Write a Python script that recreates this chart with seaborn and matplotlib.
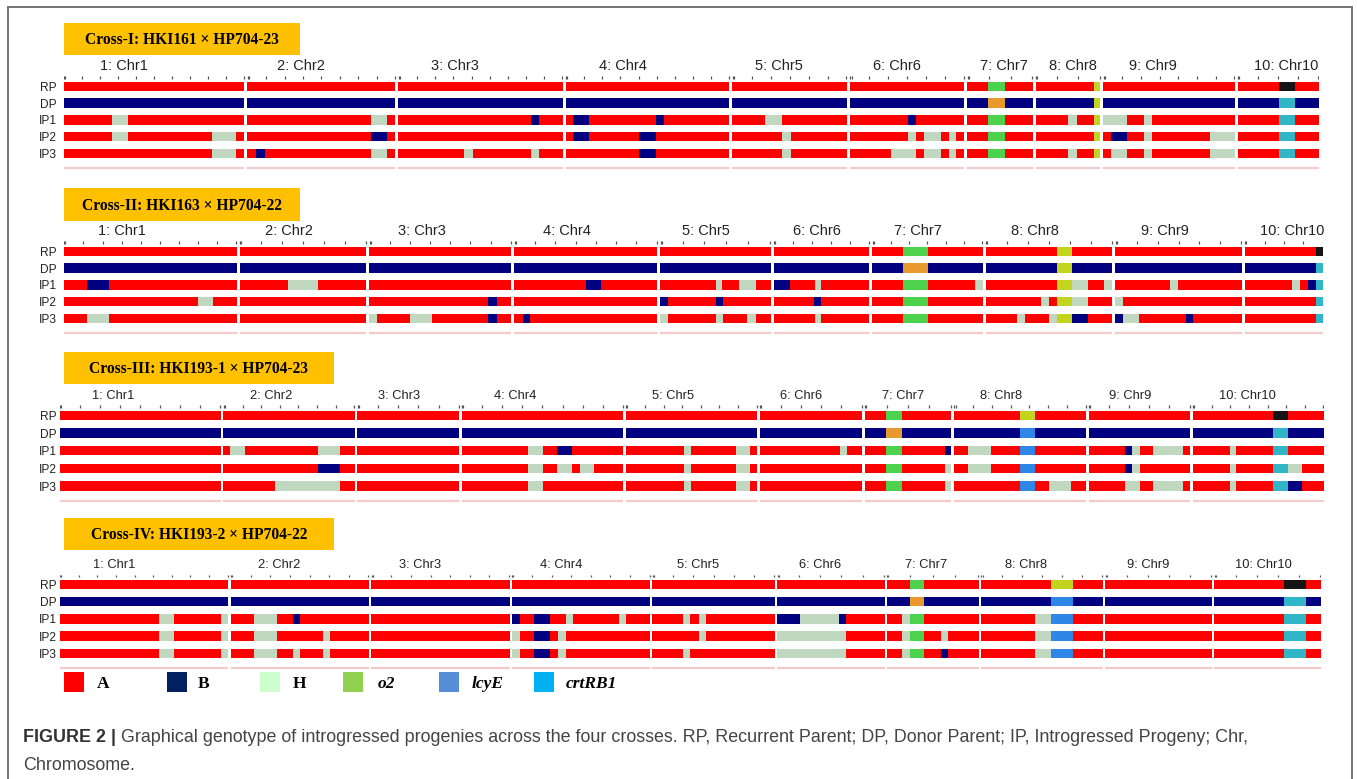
import numpy as np
import pandas as pd
import matplotlib
matplotlib.use("Agg")
import matplotlib.pyplot as plt
from matplotlib.patches import Rectangle
from matplotlib.lines import Line2D
import seaborn as sns

# ---------------- data ----------------
CHROM_LABELS = ["1: Chr1", "2: Chr2", "3: Chr3", "4: Chr4", "5: Chr5",
                "6: Chr6", "7: Chr7", "8: Chr8", "9: Chr9", "10: Chr10"]
ROW_LABELS = ["RP", "DP", "IP1", "IP2", "IP3"]
ROW_BASE = ["A", "B", "A", "A", "A"]
TITLES = ["Cross-I: HKI161 \u00d7 HP704-23", "Cross-II: HKI163 \u00d7 HP704-22",
          "Cross-III: HKI193-1 \u00d7 HP704-23", "Cross-IV: HKI193-2 \u00d7 HP704-22"]

# chromosome lengths (map units) per cross
CROSS1_LEN = [180.4, 148.3, 164.3, 163.7, 114.5, 114.5, 65.2, 64.4, 131.7, 81.2]
CROSS2_LEN = [173.1, 126.6, 141.9, 143.1, 110.4, 95.6, 110.7, 126.6, 126.7, 78.3]
CROSS3_LEN = [161.3, 131.4, 101.9, 161.3, 131.6, 102.2, 86.7, 132.1, 101.4, 131.3]
CROSS4_LEN = [168.7, 138.4, 138.3, 138.3, 122.4, 107.3, 91.8, 122.0, 106.5, 106.5]

# segments differing from the row background: (chromosome, start, end, genotype)
CROSS1_RP = [(7, 21, 37.4, "G"), (8, 58.1, 64.4, "Y"), (10, 41.2, 57.6, "K")]
CROSS1_DP = [(7, 21, 37.4, "O"), (8, 58.1, 64.4, "Y"), (10, 41.2, 57.6, "C")]
CROSS1_IP1 = [(1, 48.6, 64.2, "H"), (2, 123.6, 140.1, "H"), (3, 132.7, 140.5, "B"),
              (4, 7.4, 23.4, "B"), (4, 90.6, 98.4, "B"), (5, 32.8, 49.7, "H"),
              (6, 57.7, 65.7, "B"), (7, 21, 37.4, "G"), (8, 32.4, 40.9, "H"),
              (8, 58.1, 64.4, "Y"), (9, 0, 24, "H"), (9, 41.2, 49.2, "H"),
              (10, 41.2, 57.6, "C")]
CROSS1_IP2 = [(1, 48.6, 64.2, "H"), (1, 148.3, 172.6, "H"), (2, 123.6, 140.1, "B"),
              (4, 7.4, 23.4, "B"), (4, 73.3, 90.6, "B"), (5, 49.7, 58.1, "H"),
              (6, 57.7, 65.7, "H"), (6, 74.1, 90.9, "H"), (6, 99.4, 106.5, "H"),
              (7, 21, 37.4, "G"), (8, 58.1, 64.4, "Y"), (9, 8.4, 24, "B"),
              (9, 41.2, 49.2, "H"), (9, 106.5, 131.7, "H"), (10, 41.2, 57.6, "C")]
CROSS1_IP3 = [(1, 148.3, 172.6, "H"), (2, 8.7, 17.4, "B"), (2, 123.6, 140.1, "H"),
              (3, 65.5, 74.1, "H"), (3, 132.7, 140.5, "H"), (4, 73.3, 90.6, "B"),
              (5, 49.7, 58.1, "H"), (6, 41.3, 65.7, "H"), (6, 74.1, 90.9, "H"),
              (6, 99.4, 106.5, "H"), (7, 21, 37.4, "G"), (8, 32.4, 40.9, "H"),
              (8, 58.1, 64.4, "Y"), (9, 8.4, 24, "H"), (9, 41.2, 49.2, "H"),
              (9, 106.5, 131.7, "H"), (10, 41.2, 57.6, "C")]

CROSS2_RP = [(7, 31.2, 55.6, "G"), (8, 71.1, 86.7, "Y"), (10, 71.6, 78.3, "K")]
CROSS2_DP = [(7, 31.2, 55.6, "O"), (8, 71.1, 86.7, "Y"), (10, 71.6, 78.3, "C")]
CROSS2_IP1 = [(1, 23.4, 45.6, "B"), (2, 48.1, 78.5, "H"), (4, 71.5, 87.2, "B"),
              (5, 55.7, 62, "H"), (5, 78.8, 95.7, "H"), (6, 0, 16, "B"),
              (6, 41.3, 47.6, "H"), (7, 31.2, 55.6, "G"), (7, 102.7, 110.7, "H"),
              (8, 71.1, 86.7, "Y"), (8, 86.7, 102.6, "H"), (8, 118.6, 126.6, "H"),
              (9, 55.1, 62.7, "H"), (10, 46.7, 55.1, "H"), (10, 63.1, 71.6, "B"),
              (10, 71.6, 78.3, "C")]
CROSS2_IP2 = [(1, 134, 149.2, "H"), (3, 118.4, 127.5, "B"), (5, 0, 7.8, "B"),
              (5, 55.7, 62.8, "B"), (6, 40.4, 47.6, "B"), (7, 31.2, 55.6, "G"),
              (8, 55.5, 63.1, "H"), (8, 71.1, 86.7, "Y"), (8, 86.7, 102.6, "H"),
              (9, 0, 8, "H"), (10, 71.6, 78.3, "C")]
CROSS2_IP3 = [(1, 23.4, 45.6, "H"), (3, 0, 7.4, "H"), (3, 40.4, 62.5, "H"),
              (3, 118.4, 127.5, "B"), (4, 8.7, 16.1, "B"), (5, 0, 7.8, "H"),
              (5, 55.7, 62.8, "H"), (5, 87.2, 95.7, "H"), (6, 41.3, 47.6, "H"),
              (7, 31.2, 55.6, "G"), (8, 31.1, 39.5, "H"), (8, 63.5, 71.1, "H"),
              (8, 71.1, 86.7, "Y"), (8, 86.7, 102.6, "B"), (9, 0, 8, "B"),
              (9, 8, 23.6, "H"), (9, 71.1, 78.3, "B"), (10, 71.6, 78.3, "C")]

CROSS3_RP = [(7, 21.8, 37, "G"), (8, 65.6, 80.8, "Y"), (10, 80.8, 95.6, "K")]
CROSS3_DP = [(7, 21.8, 37, "O"), (8, 65.6, 80.8, "L"), (10, 80.8, 95.6, "C")]
CROSS3_IP1 = [(2, 6.9, 22.1, "H"), (2, 95, 116.7, "H"), (4, 65.9, 81.1, "H"),
              (4, 95, 110.2, "B"), (5, 58.2, 65.1, "H"), (5, 110.2, 124.5, "H"),
              (6, 79.9, 87.5, "H"), (7, 21.8, 37, "G"), (7, 80.8, 86.7, "B"),
              (8, 14.3, 37.4, "H"), (8, 65.6, 80.8, "L"), (9, 36.6, 43.3, "B"),
              (9, 43.3, 50.9, "H"), (9, 64.8, 94.7, "H"), (10, 37.1, 43.8, "H"),
              (10, 80.8, 95.6, "C")]
CROSS3_IP2 = [(2, 95, 116.7, "B"), (4, 65.9, 81.1, "H"), (4, 95, 110.2, "H"),
              (4, 118, 131.9, "H"), (5, 58.2, 65.1, "H"), (5, 110.2, 124.5, "H"),
              (7, 21.8, 37, "G"), (7, 80.8, 86.7, "H"), (8, 14.3, 37.4, "H"),
              (8, 65.6, 80.8, "L"), (9, 36.6, 43.3, "B"), (9, 43.3, 50.9, "H"),
              (10, 37.1, 43.8, "H"), (10, 80.8, 95.6, "C"), (10, 95.6, 109.4, "H")]
CROSS3_IP3 = [(2, 51.6, 116.7, "H"), (4, 65.9, 81.1, "H"), (5, 58.2, 65.1, "H"),
              (5, 110.2, 124.5, "H"), (7, 21.8, 37, "G"), (7, 80.8, 86.7, "H"),
              (8, 65.6, 80.8, "L"), (8, 95.5, 117.4, "H"), (9, 36.6, 50.9, "H"),
              (9, 64.8, 94.7, "H"), (10, 37.1, 43.8, "H"), (10, 80.8, 95.6, "C"),
              (10, 95.6, 109.4, "B")]

CROSS4_RP = [(7, 22.8, 37.5, "G"), (8, 69.9, 91.8, "Y"), (10, 69.9, 91.7, "K")]
CROSS4_DP = [(7, 22.8, 37.5, "O"), (8, 69.9, 91.8, "L"), (10, 69.9, 91.7, "C")]
CROSS4_IP1 = [(1, 99.7, 114.9, "H"), (1, 161.3, 168.7, "H"), (2, 23.9, 46.9, "H"),
              (2, 62.1, 69.4, "B"), (4, 0, 7.8, "B"), (4, 22.5, 37.7, "B"),
              (4, 53.8, 61.1, "H"), (4, 106.7, 114.5, "H"), (5, 30.3, 37.8, "H"),
              (5, 46.2, 53.8, "H"), (6, 0, 22.8, "B"), (6, 22.8, 61.5, "H"),
              (6, 61.5, 69, "B"), (7, 15.2, 22.8, "H"), (7, 22.8, 37.5, "G"),
              (8, 54.3, 69.9, "H"), (8, 69.9, 91.8, "L"), (10, 69.9, 91.7, "C")]
CROSS4_IP2 = [(1, 99.7, 114.9, "H"), (1, 161.3, 168.7, "H"), (2, 23.9, 46.9, "H"),
              (2, 92.4, 99.8, "H"), (4, 0, 7.8, "H"), (4, 22.5, 37.7, "B"),
              (4, 46.4, 53.8, "H"), (5, 46.2, 53.8, "H"), (6, 0, 69, "H"),
              (7, 15.2, 22.8, "H"), (7, 22.8, 37.5, "G"), (7, 54.3, 61.5, "H"),
              (8, 54.3, 69.9, "H"), (8, 69.9, 91.8, "L"), (10, 69.9, 91.7, "C")]
CROSS4_IP3 = [(1, 99.7, 114.9, "H"), (1, 161.3, 168.7, "H"), (2, 23.9, 46.9, "H"),
              (2, 62.1, 69.4, "H"), (2, 92.4, 99.8, "H"), (4, 0, 7.8, "H"),
              (4, 22.5, 37.7, "B"), (4, 46.4, 53.8, "H"), (5, 30.3, 37.8, "H"),
              (6, 0, 69, "H"), (7, 15.2, 22.8, "H"), (7, 22.8, 37.5, "G"),
              (7, 54.3, 61.5, "B"), (8, 54.3, 69.9, "H"), (8, 69.9, 91.8, "L"),
              (10, 69.9, 91.7, "C")]

LEGEND_LABELS = ["A", "B", "H", "o2", "lcyE", "crtRB1"]
LEGEND_ITALIC = [False, False, False, True, True, True]
LEGEND_COLORS = ["#ff0000", "#002060", "#ccffcc", "#92d050", "#558ed5", "#00b0f0"]

CAPTION_BOLD = "FIGURE 2 |"
CAPTION_LINE1 = ("Graphical genotype of introgressed progenies across the four crosses. "
                 "RP, Recurrent Parent; DP, Donor Parent; IP, Introgressed Progeny; Chr,")
CAPTION_LINE2 = "Chromosome."

# ---------------- style ----------------
GENO_COLORS = {"A": "#ff0000", "B": "#000080", "H": "#bfd8bf", "G": "#4dd24d",
               "O": "#e89a2e", "Y": "#c3d41f", "K": "#151515", "C": "#30b6c6",
               "L": "#2e86e6"}

sns.set_theme(style="white")
plt.rcParams["font.family"] = ["Liberation Sans", "DejaVu Sans"]

W, H = 1357, 779
fig = plt.figure(figsize=(W / 100, H / 100), dpi=100)
fig.patch.set_facecolor("white")


def fx(px):
    return px / W


def fy(py):
    return 1 - py / H


# panel layout in pixels: left, right, RP-row centre, row pitch, title box, font sizes
PANELS = [
    dict(left=63.8, right=1318.9, rp=86.2, pitch=16.8, box=(63.8, 300.2, 22.7, 55.0), cfs=10.5),
    dict(left=63.8, right=1323.1, rp=251.2, pitch=16.8, box=(63.8, 300.2, 188.3, 220.7), cfs=10.5),
    dict(left=59.5, right=1323.9, rp=415.3, pitch=17.7, box=(63.8, 333.6, 351.7, 384.3), cfs=9.3),
    dict(left=59.5, right=1320.6, rp=584.5, pitch=17.2, box=(63.8, 333.6, 518.0, 550.0), cfs=9.3),
]
LENS = [CROSS1_LEN, CROSS2_LEN, CROSS3_LEN, CROSS4_LEN]
SEGS = [
    [CROSS1_RP, CROSS1_DP, CROSS1_IP1, CROSS1_IP2, CROSS1_IP3],
    [CROSS2_RP, CROSS2_DP, CROSS2_IP1, CROSS2_IP2, CROSS2_IP3],
    [CROSS3_RP, CROSS3_DP, CROSS3_IP1, CROSS3_IP2, CROSS3_IP3],
    [CROSS4_RP, CROSS4_DP, CROSS4_IP1, CROSS4_IP2, CROSS4_IP3],
]
BAR_PX = 9.4

for p, (lay, lens, segs, title) in enumerate(zip(PANELS, LENS, SEGS, TITLES)):
    lens = np.array(lens, dtype=float)
    span = lay["right"] - lay["left"]
    gap = (span - lens.sum()) / (len(lens) - 1)
    offsets = np.concatenate([[0.0], np.cumsum(lens + gap)[:-1]])
    pitch = lay["pitch"]
    top_px = lay["rp"] - 2.0 * pitch
    bot_px = lay["rp"] + 5.0 * pitch
    ax = fig.add_axes([fx(lay["left"]), fy(bot_px), span / W, (bot_px - top_px) / H])
    ax.set_xlim(0, span)
    ax.set_ylim(5.0, -2.0)
    ax.set_facecolor("none")
    h = BAR_PX / pitch

    # build tidy frame of segments
    recs = []
    for r, (row, base) in enumerate(zip(ROW_LABELS, ROW_BASE)):
        for c in range(len(lens)):
            recs.append((r, offsets[c], lens[c], base, 0))
        for (c, s, e, g) in segs[r]:
            recs.append((r, offsets[c - 1] + s, e - s, g, 1))
    df = pd.DataFrame(recs, columns=["row", "left", "width", "geno", "layer"])
    for layer in [0, 1]:
        d = df[df.layer == layer]
        ax.barh(d["row"], d["width"], left=d["left"], height=h,
                color=[GENO_COLORS[g] for g in d["geno"]], linewidth=0,
                antialiased=False)

    # faint partially-visible next row
    for c in range(len(lens)):
        ax.hlines(4.86, offsets[c], offsets[c] + lens[c], color="#f4caca", lw=1.6)

    # marker ticks + chromosome labels
    tick_top = -10.0 / pitch
    tick_bot = -7.6 / pitch
    for c in range(len(lens)):
        n = max(3, int(round(lens[c] / 17.0)))
        xs = offsets[c] + np.linspace(0.5, lens[c] - 0.5, n)
        ax.vlines(xs, tick_top, tick_bot, color="#555555", lw=0.9)
        ax.vlines([offsets[c] + 1.6], tick_top, tick_bot, color="#555555", lw=0.9)
        ax.text(offsets[c] + 0.2 * lens[c], -19.8 / pitch, CHROM_LABELS[c],
                ha="left", va="center", fontsize=lay["cfs"], color="#222222")

    ax.set_yticks(range(5))
    ax.set_yticklabels(ROW_LABELS, fontsize=8.6, color="#222222")
    ax.tick_params(axis="y", length=0, pad=(lay["left"] - 56.5) * 0.72)
    ax.set_xticks([])
    for s in ax.spines.values():
        s.set_visible(False)

    # gold title box
    x0, x1, y0, y1 = lay["box"]
    fig.add_artist(Rectangle((fx(x0), fy(y1)), (x1 - x0) / W, (y1 - y0) / H,
                             transform=fig.transFigure, facecolor="#ffc000",
                             edgecolor="none"))
    fig.text(fx((x0 + x1) / 2), fy((y0 + y1) / 2 + 1), title, ha="center",
             va="center", fontsize=11.2, fontweight="bold",
             family=["Liberation Serif", "DejaVu Serif"], color="black")

# ---------------- legend ----------------
LEG_SQ_X = [63.5, 167.3, 260.0, 342.5, 438.5, 533.6]
LEG_TX_X = [96.5, 197.5, 292.5, 378.0, 472.0, 565.5]
for sx, tx, lab, it, col in zip(LEG_SQ_X, LEG_TX_X, LEGEND_LABELS, LEGEND_ITALIC, LEGEND_COLORS):
    fig.add_artist(Rectangle((fx(sx), fy(692)), 20 / W, 20 / H, transform=fig.transFigure,
                             facecolor=col, edgecolor="none"))
    fig.text(fx(tx), fy(684), lab, ha="left", va="center", fontsize=12.5,
             fontweight="bold", fontstyle="italic" if it else "normal",
             family=["Liberation Serif", "DejaVu Serif"], color="black")

# ---------------- border ----------------
for xs, ys in [([7.5, 7.5], [779, 6.5]), ([7.5, 1351.7], [6.5, 6.5]),
               ([1351.7, 1351.7], [6.5, 779])]:
    fig.add_artist(Line2D([fx(x) for x in xs], [fy(y) for y in ys],
                          transform=fig.transFigure, color="#6a6a6a", lw=1.3))

# ---------------- caption ----------------
cap_fs = 11.6
renderer = fig.canvas.get_renderer()
t1 = fig.text(fx(23), fy(737), CAPTION_BOLD, ha="left", va="center",
              fontsize=cap_fs, fontweight="bold", color="#333333")
bb = t1.get_window_extent(renderer)
t2 = fig.text(bb.x1 / W + 5 / W, fy(737), CAPTION_LINE1, ha="left", va="center",
              fontsize=cap_fs, color="#444444")
bb2 = t2.get_window_extent(renderer)
scale = (1250 - 23) / (bb2.x1 - bb.x0)
t1.set_fontsize(cap_fs * scale)
bb = t1.get_window_extent(renderer)
t2.set_fontsize(cap_fs * scale)
t2.set_x(bb.x1 / W + 5 / W)
fig.text(fx(23), fy(765), CAPTION_LINE2, ha="left", va="center",
         fontsize=cap_fs * scale, color="#444444")

fig.savefig("out.png", dpi=100, facecolor="white")
